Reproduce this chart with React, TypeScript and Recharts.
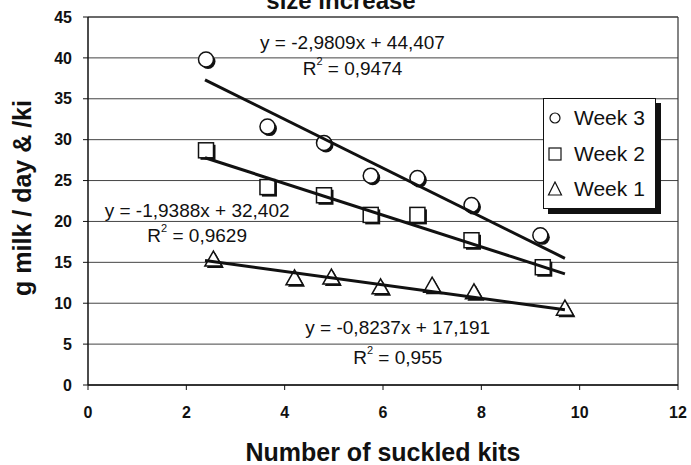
import React from "react";
import {
  ScatterChart,
  Scatter,
  XAxis,
  YAxis,
  CartesianGrid,
  ReferenceLine,
  ReferenceDot,
} from "recharts";

// ---- data ----
const week3X = [2.4, 3.65, 4.8, 5.75, 6.7, 7.8, 9.2];
const week3Y = [39.8, 31.6, 29.6, 25.6, 25.3, 22.0, 18.3];

const week2X = [2.4, 3.65, 4.8, 5.75, 6.7, 7.8, 9.25];
const week2Y = [28.7, 24.2, 23.2, 20.8, 20.8, 17.7, 14.4];

const week1X = [2.55, 4.2, 4.95, 5.95, 7.0, 7.85, 9.7];
const week1Y = [15.4, 13.1, 13.2, 12.0, 12.2, 11.4, 9.4];

// trendline coefficients (as printed on the chart)
const trendSlopes = [-2.9809, -1.9388, -0.8237];
const trendIntercepts = [44.407, 32.402, 17.191];
const trendXRange = [2.38, 9.7];

const equationTexts = [
  "y = -2,9809x + 44,407",
  "y = -1,9388x + 32,402",
  "y = -0,8237x + 17,191",
];
const r2Texts = ["0,9474", "0,9629", "0,955"];
// annotation anchors in data coordinates [x, yEq, yR2]
const annotX = [5.38, 2.22, 6.3];
const annotEqY = [41.9, 21.3, 7.0];
const annotR2Y = [38.8, 18.4, 3.4];

const xTicks = [0, 2, 4, 6, 8, 10, 12];
const yTicks = [0, 5, 10, 15, 20, 25, 30, 35, 40, 45];

const legendLabels = ["Week 3", "Week 2", "Week 1"];

const toPoints = (xs: number[], ys: number[]) =>
  xs.map((x, i) => ({ x, y: ys[i] }));

const trendPoints = (i: number) =>
  trendXRange.map((x) => ({
    x,
    y: trendSlopes[i] * x + trendIntercepts[i],
  }));

const FONT = '"Liberation Sans", Arial, sans-serif';
const INK = "#111";

const CircleMark = (p: any) => (
  <g>
    <circle cx={p.cx + 2} cy={p.cy + 2} r={7.5} fill={INK} />
    <circle cx={p.cx} cy={p.cy} r={7.5} fill="#fff" stroke={INK} strokeWidth={1.5} />
  </g>
);
const SquareMark = (p: any) => (
  <g>
    <rect x={p.cx - 7.5 + 2} y={p.cy - 7.5 + 2} width={15} height={15} fill={INK} />
    <rect x={p.cx - 7.5} y={p.cy - 7.5} width={15} height={15} fill="#fff" stroke={INK} strokeWidth={1.5} />
  </g>
);
const triPts = (cx: number, cy: number) =>
  `${cx},${cy - 8} ${cx - 8.5},${cy + 7} ${cx + 8.5},${cy + 7}`;
const TriangleMark = (p: any) => (
  <g>
    <polygon points={triPts(p.cx + 2, p.cy + 2)} fill={INK} />
    <polygon points={triPts(p.cx, p.cy)} fill="#fff" stroke={INK} strokeWidth={1.5} />
  </g>
);
const NoMark = () => <g />;

const EqLabel = (text: string) => (p: any) => (
  <text
    x={p.cx}
    y={p.cy}
    textAnchor="middle"
    dominantBaseline="central"
    fontFamily={FONT}
    fontSize={19}
    fill={INK}
  >
    {text}
  </text>
);
const R2Label = (val: string) => (p: any) => (
  <text
    x={p.cx}
    y={p.cy}
    textAnchor="middle"
    dominantBaseline="central"
    fontFamily={FONT}
    fontSize={19}
    fill={INK}
  >
    <tspan>R</tspan>
    <tspan fontSize={11} dy={-7}>2</tspan>
    <tspan dy={7}>{` = ${val}`}</tspan>
  </text>
);

const YTitle = (props: any) => {
  const vb = props.viewBox;
  const x = vb.x + 22;
  const y = vb.y + vb.height / 2 - 3;
  return (
    <text
      x={x}
      y={y}
      transform={`rotate(-90, ${x}, ${y})`}
      textAnchor="middle"
      dominantBaseline="central"
      fontFamily={FONT}
      fontWeight="bold"
      fontSize={25}
      fill={INK}
    >
      g milk / day &amp; /ki
    </text>
  );
};
const XTitle = (props: any) => {
  const vb = props.viewBox;
  return (
    <text
      x={vb.x + vb.width / 2}
      y={vb.y + 67}
      textAnchor="middle"
      dominantBaseline="central"
      fontFamily={FONT}
      fontWeight="bold"
      fontSize={25}
      fill={INK}
    >
      Number of suckled kits
    </text>
  );
};

const legendSymbols = [
  <circle cx={8} cy={8} r={5} fill="#fff" stroke={INK} strokeWidth={1.2} />,
  <rect x={2} y={2} width={12} height={12} fill="#fff" stroke={INK} strokeWidth={1.2} />,
  <polygon points="8,1 1.5,14 14.5,14" fill="#fff" stroke={INK} strokeWidth={1.2} />,
];

export default function App() {
  const tickStyle = {
    fontFamily: FONT,
    fontSize: 16,
    fontWeight: "bold" as const,
    fill: INK,
  };
  return (
    <div
      style={{
        position: "absolute",
        left: 0,
        top: 0,
        width: 691,
        height: 465,
        overflow: "hidden",
        background: "#fff",
      }}
    >
      <div
        style={{
          position: "absolute",
          left: 0,
          width: 682,
          top: -14,
          textAlign: "center",
          fontFamily: FONT,
          fontWeight: "bold",
          fontSize: 24,
          lineHeight: "30px",
          color: INK,
        }}
      >
        size increase
      </div>
      <ScatterChart
        width={691}
        height={465}
        margin={{ top: 17, right: 13, bottom: 0, left: 0 }}
      >
        <CartesianGrid
          vertical={false}
          stroke="#444"
          strokeWidth={1}
          horizontalValues={yTicks}
        />
        <XAxis
          dataKey="x"
          type="number"
          domain={[0, 12]}
          ticks={xTicks}
          interval={0}
          height={80}
          tick={tickStyle}
          tickSize={5}
          tickMargin={17}
          axisLine={{ stroke: INK, strokeWidth: 1.5 }}
          tickLine={{ stroke: INK }}
          label={<XTitle />}
        />
        <YAxis
          dataKey="y"
          type="number"
          domain={[0, 45]}
          ticks={yTicks}
          interval={0}
          width={88}
          tick={tickStyle}
          tickSize={5}
          tickMargin={11}
          axisLine={{ stroke: INK, strokeWidth: 1.5 }}
          tickLine={{ stroke: INK }}
          label={<YTitle />}
        />
        <ReferenceLine x={12} stroke="#333" strokeWidth={1.2} />
        <ReferenceLine y={45} stroke="#333" strokeWidth={1.2} />

        <Scatter data={toPoints(week3X, week3Y)} shape={CircleMark} isAnimationActive={false} />
        <Scatter data={toPoints(week2X, week2Y)} shape={SquareMark} isAnimationActive={false} />
        <Scatter data={toPoints(week1X, week1Y)} shape={TriangleMark} isAnimationActive={false} />

        {[0, 1, 2].map((i) => (
          <Scatter
            key={"t" + i}
            data={trendPoints(i)}
            line={{ stroke: INK, strokeWidth: 3 }}
            lineType="joint"
            shape={NoMark}
            isAnimationActive={false}
          />
        ))}

        {[0, 1, 2].map((i) => (
          <ReferenceDot
            key={"e" + i}
            x={annotX[i]}
            y={annotEqY[i]}
            r={0}
            shape={EqLabel(equationTexts[i])}
            ifOverflow="visible"
          />
        ))}
        {[0, 1, 2].map((i) => (
          <ReferenceDot
            key={"r" + i}
            x={annotX[i]}
            y={annotR2Y[i]}
            r={0}
            shape={R2Label(r2Texts[i])}
            ifOverflow="visible"
          />
        ))}
      </ScatterChart>

      <div
        style={{
          position: "absolute",
          left: 543,
          top: 98,
          width: 111,
          height: 109,
          border: `1px solid ${INK}`,
          background: "#fff",
          boxShadow: `5px 5px 0 ${INK}`,
          fontFamily: FONT,
          fontSize: 21,
          color: INK,
        }}
      >
        {legendLabels.map((lab, i) => (
          <div
            key={lab}
            style={{
              position: "absolute",
              left: 3,
              top: 6 + i * 35.5,
              height: 26,
              display: "flex",
              alignItems: "center",
              whiteSpace: "nowrap",
            }}
          >
            <svg width={16} height={16} style={{ marginRight: 11 }}>
              {legendSymbols[i]}
            </svg>
            <span>{lab}</span>
          </div>
        ))}
      </div>
    </div>
  );
}
